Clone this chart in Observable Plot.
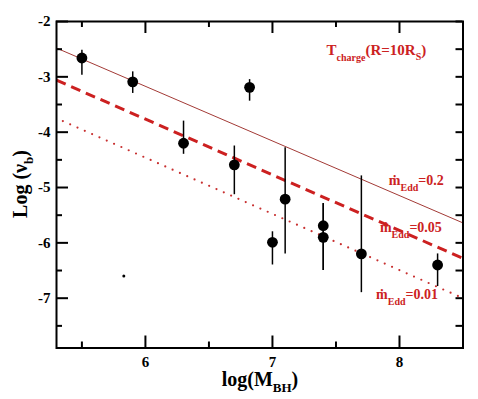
<!DOCTYPE html>
<html>
<head>
<meta charset="utf-8">
<script src="https://cdn.jsdelivr.net/npm/d3@7"></script>
<script src="https://cdn.jsdelivr.net/npm/@observablehq/plot@0.6"></script>
<style>
  html, body { margin: 0; padding: 0; background: #fff; }
</style>
</head>
<body>
<div id="chart"></div>
<script>
// Observed points: log(M_BH), log(nu_b), error-bar upper and lower ends
const logM   = [5.5, 5.9, 6.3, 6.7, 6.82, 7.0, 7.1, 7.4, 7.4, 7.7, 8.3];
const logNu  = [-2.66, -3.09, -4.20, -4.59, -3.19, -5.99, -5.21, -5.69, -5.90, -6.20, -6.40];
const errHi  = [-2.52, -2.91, -3.80, -4.25, -3.05, -5.80, -4.28, -5.29, -5.29, -4.79, -6.20];
const errLo  = [-2.97, -3.30, -4.40, -5.13, -3.44, -6.40, -6.20, -6.50, -6.50, -6.90, -6.79];

// small stray dot
const strayX = [5.83];
const strayY = [-6.60];

// model lines (end points)
const solidX  = [5.3, 8.5];
const solidY  = [-2.48, -5.64];
const dashX   = [5.3, 8.5];
const dashY   = [-3.06, -6.28];
const dotX    = [5.35, 8.47];
const dotY    = [-3.80, -6.97];

// tick positions
const xMajor = [6, 7, 8];
const xMinor = [5.5, 6.5, 7.5, 8.5];
const yMajor = [-7, -6, -5, -4, -3, -2];
const yMinor = [-7.5, -6.5, -5.5, -4.5, -3.5, -2.5];

// annotation labels (left x, baseline y in data units)
const labelX = [7.43, 7.92, 7.85, 7.82];
const labelY = [-2.61, -4.96, -5.81, -7.03];
const labelMain = ["T", "ṁ", "ṁ", "ṁ"];
const labelSub  = ["charge", "Edd", "Edd", "Edd"];
const labelRest = ["(R=10R", "=0.2", "=0.05", "=0.01"];

const points = logM.map((x, i) => ({x, y: logNu[i], hi: errHi[i], lo: errLo[i]}));
const mkLine = (xs, ys) => xs.map((x, i) => ({x, y: ys[i]}));

const W = 478, H = 399;
const mL = 56, mR = 15.5, mT = 21, mB = 51.5;
const innerW = W - mL - mR, innerH = H - mT - mB;

const red = "#cc2222";
const font = "'Liberation Serif', 'Times New Roman', serif";

const plot = Plot.plot({
  width: W, height: H,
  marginLeft: mL, marginRight: mR, marginTop: mT, marginBottom: mB,
  x: {domain: [5.3, 8.5], label: null},
  y: {domain: [-7.9, -2], label: null},
  style: {fontFamily: font, fontWeight: "bold", fontSize: "15px", color: "#000", background: "#fff"},
  marks: [
    // model lines
    Plot.line(mkLine(solidX, solidY), {x: "x", y: "y", stroke: "#a33a36", strokeWidth: 1}),
    Plot.line(mkLine(dashX, dashY), {x: "x", y: "y", stroke: "#cc2020", strokeWidth: 3, strokeDasharray: "10,6", strokeLinecap: "butt"}),
    Plot.line(mkLine(dotX, dotY), {x: "x", y: "y", stroke: "#c83030", strokeWidth: 2.2, strokeDasharray: "0,8", strokeLinecap: "round"}),
    // error bars
    Plot.ruleX(points, {x: "x", y1: "lo", y2: "hi", stroke: "#000", strokeWidth: 1.5}),
    // points
    Plot.dot(points, {x: "x", y: "y", r: 5.4, fill: "#000", stroke: "none"}),
    Plot.dot(strayX.map((x, i) => ({x, y: strayY[i]})), {x: "x", y: "y", r: 1.5, fill: "#000"}),
    // ticks: bottom
    Plot.tickX(xMajor, {x: d => d, insetTop: innerH - 12, strokeWidth: 2}),
    Plot.tickX(xMinor, {x: d => d, insetTop: innerH - 6, strokeWidth: 2}),
    // ticks: top
    Plot.tickX(xMajor, {x: d => d, insetBottom: innerH - 12, strokeWidth: 2}),
    Plot.tickX(xMinor, {x: d => d, insetBottom: innerH - 6, strokeWidth: 2}),
    // ticks: left
    Plot.tickY(yMajor, {y: d => d, insetRight: innerW - 12, strokeWidth: 2}),
    Plot.tickY(yMinor, {y: d => d, insetRight: innerW - 6, strokeWidth: 2}),
    // ticks: right
    Plot.tickY(yMajor.concat(yMinor), {y: d => d, insetLeft: innerW - 7, strokeWidth: 2}),
    // tick labels
    Plot.axisX({ticks: xMajor, tickSize: 0, tickPadding: 8, label: null, tickFormat: d => String(d)}),
    Plot.axisY({ticks: yMajor, tickSize: 0, tickPadding: 6, label: null, tickFormat: d => String(d)}),
    Plot.frame({stroke: "#000", strokeWidth: 2})
  ]
});

document.getElementById("chart").appendChild(plot);

const sx = plot.scale("x"), sy = plot.scale("y");
const svg = d3.select(plot);

// annotation labels with subscripts
labelX.forEach((lx, i) => {
  const t = svg.append("text")
    .attr("x", sx.apply(lx)).attr("y", sy.apply(labelY[i]))
    .attr("text-anchor", "start")
    .attr("fill", red).attr("font-family", font).attr("font-weight", "bold")
    .attr("font-size", i === 0 ? 15 : 14);
  t.append("tspan").text(labelMain[i]);
  t.append("tspan").attr("dy", 6).attr("font-size", 10).text(labelSub[i]);
  t.append("tspan").attr("dy", -6).text(labelRest[i]);
  if (i === 0) {
    t.append("tspan").attr("dy", 5).attr("font-size", 10).text("S");
    t.append("tspan").attr("dy", -5).text(")");
  }
});

// axis titles
const xt = svg.append("text")
  .attr("x", 260).attr("y", 386).attr("text-anchor", "middle")
  .attr("font-family", font).attr("font-weight", "bold").attr("font-size", 20).attr("fill", "#000");
xt.append("tspan").text("log(M");
xt.append("tspan").attr("dy", 6).attr("font-size", 13).text("BH");
xt.append("tspan").attr("dy", -6).text(")");

const yt = svg.append("text")
  .attr("transform", "translate(27,184) rotate(-90)").attr("text-anchor", "middle")
  .attr("font-family", font).attr("font-weight", "bold").attr("font-size", 20).attr("fill", "#000");
yt.append("tspan").text("Log (ν");
yt.append("tspan").attr("dy", 6).attr("font-size", 13).text("b");
yt.append("tspan").attr("dy", -6).text(")");
</script>
</body>
</html>
